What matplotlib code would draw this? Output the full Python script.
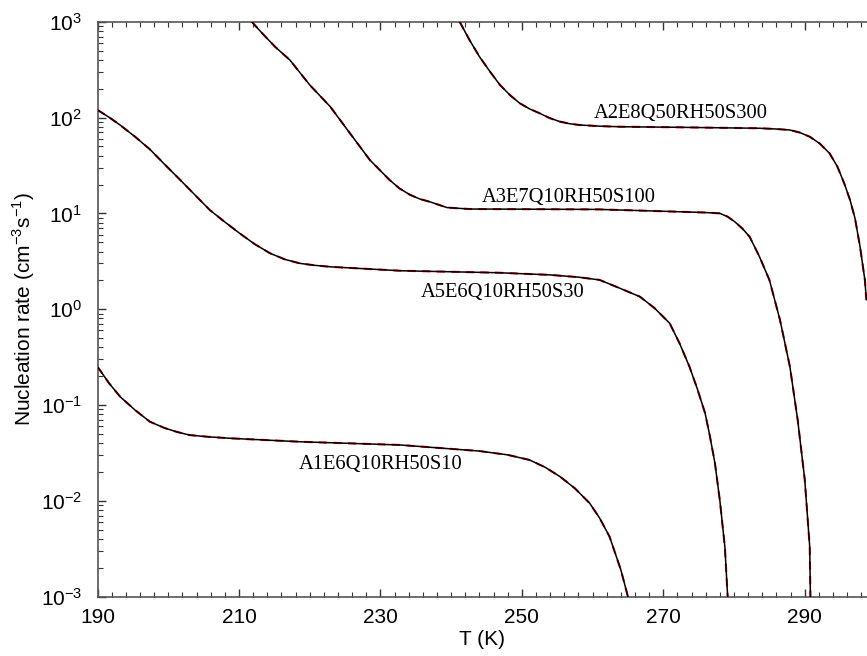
"""Nucleation rate vs temperature for four parameter sets."""
import matplotlib
matplotlib.use("Agg")
import matplotlib.pyplot as plt
from matplotlib.ticker import MultipleLocator, LogLocator, NullFormatter

plt.rcParams["font.family"] = ["Liberation Sans", "DejaVu Sans"]
plt.rcParams["mathtext.fontset"] = "custom"
plt.rcParams["mathtext.rm"] = "Liberation Sans"
plt.rcParams["axes.unicode_minus"] = False

# readings: temperature (K) and nucleation rate (cm^-3 s^-1)
t_s10 = [190.0, 191.6, 193.2, 195.3, 197.4, 199.5, 201.2, 203.0, 205.8,
         208.7, 218.6, 232.8, 244.0, 248.0, 251.1, 253.3, 255.4, 257.5,
         259.6, 261.0, 262.4, 264.0, 265.0]
j_s10 = [0.251, 0.17, 0.122, 0.0887, 0.067, 0.0575, 0.0525, 0.0486, 0.0465,
         0.045, 0.0414, 0.0383, 0.0331, 0.0302, 0.0267, 0.0224, 0.0179, 0.0135,
         0.00942, 0.0066, 0.00423, 0.0019, 0.001]

t_s30 = [190.0, 191.6, 193.2, 195.3, 197.4, 199.5, 201.7, 203.8, 205.9,
         208.0, 210.1, 212.2, 214.4, 216.5, 218.6, 220.7, 222.9, 232.8,
         246.9, 254.0, 258.0, 261.0, 263.9, 266.7, 268.8, 270.9, 272.3,
         273.7, 274.8, 275.9, 276.6, 277.3, 278.0, 278.7, 279.1]
j_s30 = [120, 101, 83.4, 63.1, 46.6, 32.4, 22.3, 15.5, 10.8,
         8.13, 6.19, 4.79, 3.83, 3.31, 3.01, 2.87, 2.77, 2.52,
         2.40, 2.28, 2.16, 2.02, 1.65, 1.35, 1.02, 0.713, 0.44,
         0.251, 0.148, 0.0826, 0.0468, 0.0247, 0.01, 0.00333, 0.001]

t_s100 = [211.8, 213.4, 215.1, 217.2, 220.0, 222.9, 225.7, 228.5, 231.3,
          232.7, 234.2, 235.6, 237.0, 239.4, 242.6, 261.0, 272.3, 276.0,
          278.0, 279.1, 280.1, 281.2, 282.2, 283.6, 285.0, 286.5, 287.9,
          289.0, 290.0, 290.7, 290.8]
j_s100 = [1000, 741, 548, 398, 219, 130, 68.4, 36.1, 22.3,
          18.2, 15.6, 14.1, 13.2, 11.5, 11.1, 11.0, 10.4, 10.2,
          10.0, 9.23, 8.18, 6.92, 5.71, 3.53, 2.02, 0.771, 0.251,
          0.0698, 0.0166, 0.00333, 0.001]

t_s300 = [241.2, 242.6, 244.0, 245.5, 246.9, 248.3, 249.7, 251.1, 252.5,
          253.9, 255.4, 256.8, 258.2, 261.0, 263.8, 272.3, 283.6, 286.0,
          287.9, 289.3, 290.7, 292.1, 293.5, 294.6, 295.6, 296.4, 297.1,
          297.8, 298.5, 298.7]
j_s300 = [1000, 644, 432, 301, 219, 172, 141, 123, 111,
          98.9, 90.6, 86.1, 83.6, 81.3, 80.2, 79.1, 77.3, 75.9,
          74.1, 69.7, 63.1, 53.7, 42.4, 30.9, 20.4, 13.8, 8.9,
          4.57, 2.02, 1.26]

series = [
    (t_s10, j_s10, "A1E6Q10RH50S10", 230.1, 0.0237),
    (t_s30, j_s30, "A5E6Q10RH50S30", 247.3, 1.48),
    (t_s100, j_s100, "A3E7Q10RH50S100", 256.6, 14.5),
    (t_s300, j_s300, "A2E8Q50RH50S300", 272.5, 111),
]

fig = plt.figure(figsize=(8.67, 6.56), dpi=100)
ax = fig.add_axes([0.1125, 0.0904, 0.8875, 0.8765])

for t, j, name, tx, ty in series:
    ax.plot(t, j, color="red", lw=1.5, ls=(0, (4, 3)), zorder=2)
    ax.plot(t, j, color="black", lw=1.1, zorder=3)
    ax.text(tx, ty, name, family="Liberation Serif", fontsize=14.8,
            ha="center", va="center")

ax.set_yscale("log")
ax.set_xlim(190, 298.8)
ax.set_ylim(1e-3, 1e3)

ax.xaxis.set_major_locator(MultipleLocator(20, offset=10))
ax.xaxis.set_minor_locator(MultipleLocator(2))
ax.yaxis.set_major_locator(LogLocator(base=10, numticks=10))
ax.yaxis.set_minor_locator(LogLocator(base=10, subs=range(2, 10), numticks=10))
ax.yaxis.set_minor_formatter(NullFormatter())

ax.tick_params(which="both", direction="in", top=True, right=False,
               color="#333333", labelsize=15)
ax.tick_params(which="major", length=6, width=1)
ax.tick_params(which="minor", length=3.5, width=0.8)
ax.tick_params(axis="x", pad=8)
ax.tick_params(axis="y", pad=11)

ax.spines["right"].set_visible(False)
for s in ("left", "top", "bottom"):
    ax.spines[s].set_color("#555555")
    ax.spines[s].set_linewidth(1.2)

ax.set_xlabel("T (K)", fontsize=15)
ax.set_ylabel(r"Nucleation rate (cm$^{-3}$s$^{-1}$)", fontsize=15)
ax.xaxis.set_label_coords(0.5, -0.058)
ax.yaxis.set_label_coords(-0.0786, 0.5)

fig.savefig("out.png", dpi=100)
